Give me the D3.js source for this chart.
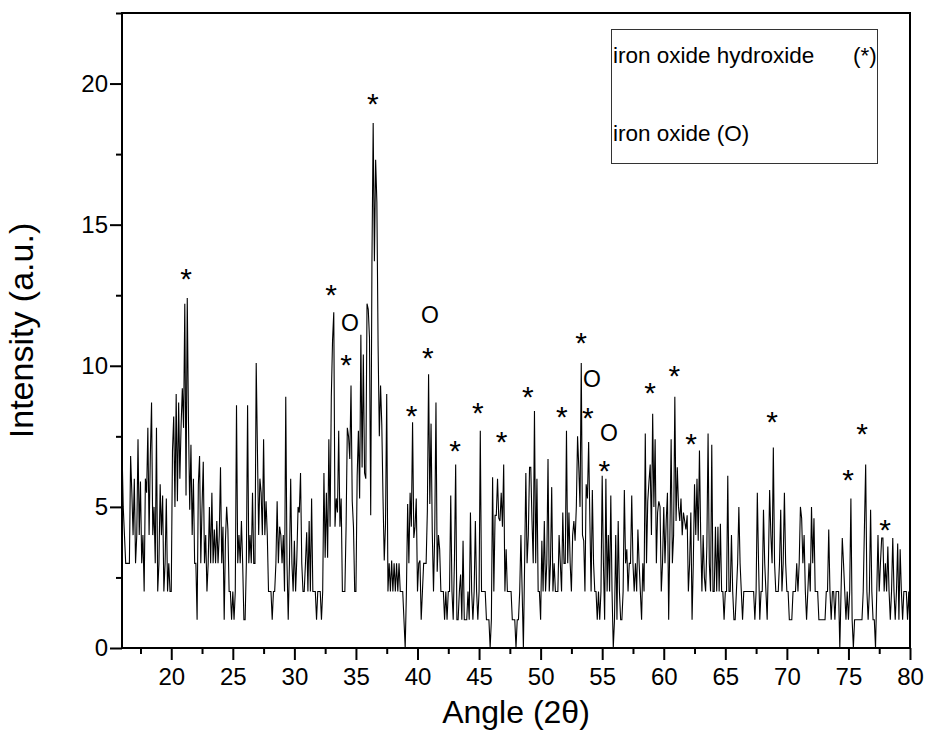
<!DOCTYPE html>
<html>
<head>
<meta charset="utf-8">
<script src="https://d3js.org/d3.v7.min.js"></script>
<style>
  body { margin: 0; background: #fff; }
  svg text { font-family: Arial, "Liberation Sans", sans-serif; fill: #000; }
</style>
</head>
<body>
<div id="chart"></div>
<script>
// scan grid: 2-theta from 16 deg in 0.1 deg steps
const twoThetaStart = 16;
const twoThetaStep = 0.1;

// intensity (a.u.), one row per degree (16.0 .. 16.9, 17.0 .. 17.9, ...)
const intensity = [
  7.1, 5, 4, 3, 3, 3, 3, 6.8, 5.5, 4,
  6, 3, 4, 7.4, 4, 5.9, 3, 4, 2, 6,
  5.5, 7.8, 4, 6.8, 8.7, 4, 5, 3, 7.8, 2,
  3, 5.8, 4, 5.4, 2, 3, 5.3, 2, 3, 2,
  2, 7, 8.2, 5, 9, 5.2, 8.7, 6, 7.9, 9.2,
  7.8, 12.2, 5.4, 12.4, 8, 4.9, 7.2, 4, 6, 3,
  3, 1, 5.8, 6.8, 3, 5, 6.6, 3, 4, 2,
  3, 5, 3, 5.5, 3, 4.2, 3, 4.5, 3, 4,
  6.4, 3, 4.3, 1, 3.8, 5, 4.2, 2, 2, 1,
  2, 1, 2, 8.6, 3, 4, 3, 4.5, 3, 1,
  1, 3, 8.6, 3, 4, 3, 5.5, 3, 3, 10.1,
  7, 4, 6, 5.5, 4, 7.4, 4, 5.2, 4, 2,
  2, 2, 1, 2, 2, 3, 5.2, 3, 4.3, 4,
  3, 4, 2, 8.9, 3, 1, 3, 6, 3, 2,
  3.8, 2, 3.2, 5, 4.8, 6.2, 3, 2, 2, 3,
  4.1, 2, 4.5, 2, 5.3, 2, 2, 2, 1, 2,
  2, 2, 1, 2, 6.2, 3.2, 5.5, 3.2, 7.4, 4.3,
  8.9, 10.9, 11.9, 4.3, 5.3, 4.8, 7.7, 4.3, 5.3, 2,
  2, 2, 4.3, 7.8, 7.5, 6.7, 9.3, 5.2, 4.3, 2,
  2, 6.1, 7.7, 5.3, 11.1, 6.4, 10.4, 6.2, 6, 12.2,
  12, 11, 4.7, 13.7, 18.6, 13.7, 17.3, 15.8, 10.7, 7.5,
  9.3, 7.9, 5.3, 3.1, 4.35, 9, 2, 3, 2, 3.1,
  2, 3, 2, 3, 2, 3, 2, 2, 2, 1,
  0, 2, 5.1, 3, 5.5, 4.3, 8, 3.9, 4.3, 5.3,
  2, 3, 3.1, 1, 2, 3, 3, 3, 4.85, 9.7,
  5.1, 7.95, 4.1, 2, 4.1, 8.7, 2.7, 4, 3.5, 2,
  2, 2, 1, 2, 1, 2, 2, 5.4, 2, 1,
  3.1, 6.5, 1, 1, 2, 2.6, 1, 3.8, 1, 1,
  1, 2, 1, 4.8, 2, 1, 2, 4.5, 2, 1,
  2, 7.7, 2, 2, 2, 2, 1, 1, 1, 0,
  1, 6.05, 2, 4.7, 4.7, 6, 4.6, 4.5, 5.5, 4.3,
  6.5, 2, 3.5, 2, 2, 2, 2, 1, 1, 1,
  0, 1, 1, 2, 4, 2, 0, 3, 6.2, 3,
  4, 6.4, 6.4, 4.5, 3, 8.4, 3, 6, 2, 2,
  1, 3.8, 2, 4.5, 2, 3, 6.7, 2, 3, 5.7,
  2, 3, 2, 2, 2, 4, 3, 2, 4.8, 3,
  3, 7.7, 3, 4.8, 3, 2, 4, 4.5, 3.8, 5,
  7.5, 6.4, 5, 10.1, 4, 3.8, 2, 5.8, 5.3, 7.3,
  4.5, 2, 5.6, 3, 2, 2, 1, 2, 1, 2,
  6.1, 3, 1, 6, 2, 4, 2, 5.4, 2, 0,
  1, 4, 1, 4.5, 2, 1, 1, 2, 5.6, 3,
  3.5, 2, 3, 3, 5.4, 3, 2, 3, 2, 4.2,
  3, 2, 1, 3, 2, 7.6, 3, 5.2, 5.9, 6.5,
  4, 8.3, 5, 7.4, 3, 4.8, 5.2, 5, 2, 3,
  5, 3, 4.5, 5.5, 1, 4, 7.4, 3, 4, 8.9,
  4.5, 6.4, 5, 4.5, 5.3, 4, 4.8, 4.5, 4.2, 4.7,
  2, 3, 4.8, 1, 3, 5.8, 4, 6, 3.8, 7,
  4, 2, 4, 2.5, 2, 3.6, 7.6, 3, 2, 7.2,
  2, 2, 4.3, 2, 4.3, 2, 4.4, 2, 2, 1,
  2, 2, 6.1, 2, 2, 4, 2, 1, 1, 2,
  3, 5, 3, 2, 1, 2, 2, 2, 2, 2,
  2, 2, 2, 2, 1, 2, 5.5, 3, 1, 2,
  2, 4.9, 3, 2, 1, 3, 5.6, 4, 3, 7.1,
  3, 2, 2, 2, 3, 4.9, 2, 3, 5.5, 3,
  2, 2, 1, 1, 1, 2, 2, 2, 3, 2,
  3, 5, 4.6, 3, 4, 2, 1, 2, 3, 2,
  5, 3, 4.6, 2, 2, 2, 1, 1, 1, 1,
  1, 1, 2, 2, 4.2, 2, 1, 2, 2, 1,
  2, 2, 2, 0, 2, 3.9, 3, 2, 1, 2,
  1, 2, 5.3, 1, 0, 1, 1, 1, 1, 1,
  1, 1, 2, 4.3, 6.5, 2, 1, 2, 4.9, 2,
  1, 1, 0, 2, 4, 2, 3, 3.9, 3.9, 2,
  3, 2, 3.6, 2, 1, 2, 3.9, 2, 1, 2,
  3.7, 1, 3.5, 2, 1, 2, 2, 2, 1, 2,
  0.7
];

const xTickValues = [20, 25, 30, 35, 40, 45, 50, 55, 60, 65, 70, 75, 80];
const xMinorTicks = [17.5, 22.5, 27.5, 32.5, 37.5, 42.5, 47.5, 52.5, 57.5, 62.5, 67.5, 72.5, 77.5];
const yTickValues = [0, 5, 10, 15, 20];
const yMinorTicks = [2.5, 7.5, 12.5, 17.5, 22.5];

// peak markers [2-theta, intensity at the mark]
const starMarks = [
  [21.2, 13.33], [32.98, 12.78], [34.2, 10.29], [36.37, 19.54], [39.53, 8.49],
  [40.83, 10.53], [43.05, 7.24], [44.9, 8.6], [46.84, 7.54], [48.96, 9.16],
  [51.72, 8.45], [53.29, 11.07], [53.83, 8.42], [55.18, 6.53], [58.89, 9.29],
  [60.87, 9.9], [62.22, 7.5], [68.8, 8.27], [74.97, 6.2], [76.11, 7.83], [77.98, 4.43]
];
const circleMarks = [
  [34.52, 11.52], [41.02, 11.82], [54.16, 9.55], [55.54, 7.62]
];
const legendNames = ['iron oxide hydroxide', 'iron oxide (O)'];
const legendSymbols = ['(*)', ''];

const width = 926, height = 751;
const margin = {top: 13, right: 16, bottom: 103, left: 122};
const innerW = width - margin.left - margin.right;
const innerH = height - margin.top - margin.bottom;

const svg = d3.select('#chart').append('svg')
  .attr('width', width)
  .attr('height', height);

const g = svg.append('g')
  .attr('transform', 'translate(' + margin.left + ',' + margin.top + ')');

const xScale = d3.scaleLinear().domain([16, 80]).range([0, innerW]);
const yScale = d3.scaleLinear().domain([0, 22.5]).range([innerH, 0]);

// minor ticks
g.append('g')
  .attr('class', 'axis')
  .attr('transform', 'translate(0,' + innerH + ')')
  .call(d3.axisBottom(xScale).tickValues(xMinorTicks).tickSize(6).tickSizeOuter(0).tickFormat(''));
g.append('g')
  .attr('class', 'axis')
  .call(d3.axisLeft(yScale).tickValues(yMinorTicks).tickSize(6).tickSizeOuter(0).tickFormat(''));

// major ticks
g.append('g')
  .attr('class', 'axis')
  .attr('transform', 'translate(0,' + innerH + ')')
  .call(d3.axisBottom(xScale).tickValues(xTickValues).tickSize(12).tickSizeOuter(0).tickPadding(8));
g.append('g')
  .attr('class', 'axis')
  .call(d3.axisLeft(yScale).tickValues(yTickValues).tickSize(12).tickSizeOuter(0).tickPadding(2));

g.selectAll('.axis .domain').remove();
g.selectAll('.axis line').attr('stroke', '#000').attr('stroke-width', 2);
g.selectAll('.axis').attr('font-size', null).attr('font-family', null);
g.selectAll('.axis text').style('font-size', '24px').attr('fill', '#000');

// data
const line = d3.line()
  .x(function(d, i) { return xScale(twoThetaStart + i * twoThetaStep); })
  .y(function(d) { return yScale(d); });

g.append('path')
  .attr('d', line(intensity))
  .attr('fill', 'none')
  .attr('stroke', '#000')
  .attr('stroke-width', 1.1)
  .attr('stroke-linejoin', 'miter');

// frame
g.append('rect')
  .attr('x', 0).attr('y', 0)
  .attr('width', innerW).attr('height', innerH)
  .attr('fill', 'none')
  .attr('stroke', '#000')
  .attr('stroke-width', 2);

// markers
const starSize = 30, circleSize = 23;
g.selectAll('.star').data(starMarks).enter().append('text')
  .attr('class', 'star')
  .attr('x', d => xScale(d[0]))
  .attr('y', d => yScale(d[1]) + starSize * 0.575)
  .attr('text-anchor', 'middle')
  .style('font-size', starSize + 'px')
  .text('*');
g.selectAll('.circ').data(circleMarks).enter().append('text')
  .attr('class', 'circ')
  .attr('x', d => xScale(d[0]))
  .attr('y', d => yScale(d[1]) + circleSize * 0.358)
  .attr('text-anchor', 'middle')
  .style('font-size', circleSize + 'px')
  .text('O');

// legend box
svg.append('rect')
  .attr('x', 611.5).attr('y', 29.5)
  .attr('width', 266).attr('height', 134)
  .attr('fill', '#fff')
  .attr('stroke', '#333')
  .attr('stroke-width', 1);
const leg = svg.selectAll('.leg').data(legendNames).enter().append('g')
  .attr('class', 'leg');
leg.append('text')
  .attr('x', 613)
  .attr('y', (d, i) => 63 + i * 78)
  .style('font-size', '22.5px')
  .text(d => d);
leg.append('text')
  .attr('x', 853)
  .attr('y', (d, i) => 63 + i * 78)
  .style('font-size', '22.5px')
  .text((d, i) => legendSymbols[i]);

// axis titles
svg.append('text')
  .attr('x', margin.left + innerW / 2)
  .attr('y', 723)
  .attr('text-anchor', 'middle')
  .style('font-size', '32px')
  .text('Angle (2θ)');
svg.append('text')
  .attr('transform', 'translate(33,' + (margin.top + innerH / 2) + ') rotate(-90)')
  .attr('text-anchor', 'middle')
  .style('font-size', '34px')
  .text('Intensity (a.u.)');
</script>
</body>
</html>
